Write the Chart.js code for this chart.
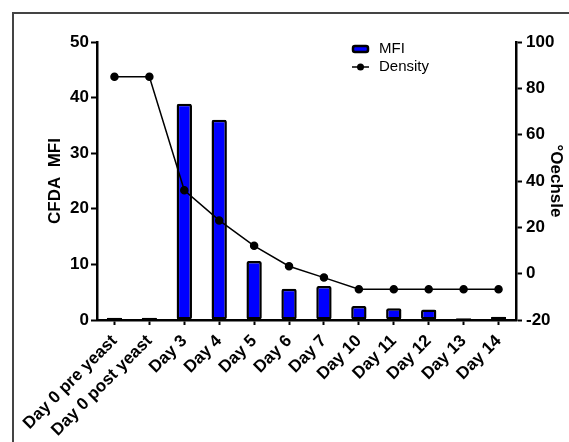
<!DOCTYPE html>
<html lang="en">
<head>
  <meta charset="UTF-8">
  <title>CFDA MFI and Density</title>
  <style>
    body { margin: 0; background: #fff; overflow: hidden; }
  </style>
  <script src="https://cdn.jsdelivr.net/npm/chart.js"></script>
</head>
<body>
  <canvas id="chart" width="569" height="442"></canvas>

  <script>
    const days = ['Day 0 pre yeast', 'Day 0 post yeast', 'Day 3', 'Day 4', 'Day 5', 'Day 6',
                  'Day 7', 'Day 10', 'Day 11', 'Day 12', 'Day 13', 'Day 14'];
    const mfi = [0.4, 0.4, 38.9, 36.0, 10.6, 5.6, 6.1, 2.5, 2.1, 1.9, 0.3, 0.6];
    const density = [85, 85, 36, 23, 12, 3.2, -1.7, -6.7, -6.7, -6.7, -6.7, -6.7];
    const leftTicks = [0, 10, 20, 30, 40, 50];
    const rightTicks = [-20, 0, 20, 40, 60, 80, 100];

    const FONT = '"Liberation Sans", Arial, sans-serif';
    Chart.defaults.font.family = FONT;
    Chart.defaults.color = '#000';

    // outer frame: only left and top edges are inside the picture
    const framePlugin = {
      id: 'frame',
      beforeDraw(chart) {
        const ctx = chart.ctx;
        ctx.save();
        ctx.strokeStyle = '#444';
        ctx.lineWidth = 2;
        ctx.beginPath();
        ctx.moveTo(13, chart.height + 5);
        ctx.lineTo(13, 13);
        ctx.lineTo(chart.width + 5, 13);
        ctx.stroke();
        ctx.restore();
      }
    };

    // simple legend drawn in the top right of the plot
    const legendPlugin = {
      id: 'miniLegend',
      afterDraw(chart) {
        const ctx = chart.ctx;
        const x = 352, y1 = 49, y2 = 67;
        ctx.save();
        ctx.beginPath();
        ctx.roundRect(353, 46, 15, 6, 2);
        ctx.fillStyle = chart.data.datasets[0].backgroundColor;
        ctx.fill();
        ctx.lineWidth = 2.5;
        ctx.strokeStyle = '#000';
        ctx.stroke();
        ctx.beginPath();
        ctx.moveTo(x, y2);
        ctx.lineTo(x + 17, y2);
        ctx.lineWidth = 1.5;
        ctx.stroke();
        ctx.beginPath();
        ctx.arc(x + 8.5, y2, 3.5, 0, Math.PI * 2);
        ctx.fillStyle = '#000';
        ctx.fill();
        ctx.font = '15px ' + FONT;
        ctx.textBaseline = 'middle';
        ctx.fillText(chart.data.datasets[0].label, 379, y1);
        ctx.fillText(chart.data.datasets[1].label, 379, y2);
        ctx.restore();
      }
    };

    new Chart(document.getElementById('chart'), {
      type: 'bar',
      plugins: [framePlugin, legendPlugin],
      data: {
        labels: days,
        datasets: [
          {
            label: 'MFI',
            data: mfi,
            backgroundColor: '#0000ff',
            borderColor: '#000',
            borderWidth: 2.5,
            borderRadius: 2,
            borderSkipped: false,
            categoryPercentage: 1,
            barPercentage: 0.44,
            yAxisID: 'y',
            order: 2
          },
          {
            type: 'line',
            label: 'Density',
            data: density,
            borderColor: '#000',
            backgroundColor: '#000',
            borderWidth: 1.5,
            pointRadius: 3.5,
            pointBackgroundColor: '#000',
            tension: 0,
            yAxisID: 'y1',
            order: 1
          }
        ]
      },
      options: {
        responsive: false,
        animation: false,
        layout: { padding: { left: 45, right: 3, top: 42, bottom: 0 } },
        plugins: {
          legend: { display: false },
          tooltip: { enabled: false }
        },
        scales: {
          x: {
            offset: true,
            grid: { display: true, offset: false, drawOnChartArea: false, tickLength: 5, tickWidth: 2, tickColor: '#000' },
            border: { display: true, color: '#000', width: 2.5 },
            ticks: {
              minRotation: 45, maxRotation: 45, padding: 6,
              font: { size: 17, weight: 'bold' }, color: '#000'
            },
            afterFit(scale) {
              scale.height = 122;
              scale.paddingLeft = 0;
              scale.paddingRight = 0;
            }
          },
          y: {
            position: 'left',
            min: 0, max: 50,
            afterBuildTicks(scale) { scale.ticks = leftTicks.map(v => ({ value: v })); },
            grid: { display: true, drawOnChartArea: false, tickLength: 6, tickWidth: 2, tickColor: '#000' },
            border: { display: true, color: '#000', width: 2.5 },
            ticks: { padding: 2, font: { size: 17, weight: 'bold' }, color: '#000' },
            title: { display: true, text: 'CFDA  MFI', padding: 0, font: { size: 17, weight: 'bold' }, color: '#000' },
            afterFit(scale) { scale.width = 52; }
          },
          y1: {
            position: 'right',
            min: -20, max: 100,
            afterBuildTicks(scale) { scale.ticks = rightTicks.map(v => ({ value: v })); },
            grid: { display: true, drawOnChartArea: false, tickLength: 6, tickWidth: 2, tickColor: '#000' },
            border: { display: true, color: '#000', width: 2.5 },
            ticks: { padding: 4, font: { size: 17, weight: 'bold' }, color: '#000' },
            title: { display: true, text: '°Oechsle', padding: 0, font: { size: 17, weight: 'bold' }, color: '#000' },
            afterFit(scale) { scale.width = 50; }
          }
        }
      }
    });
  </script>
</body>
</html>
